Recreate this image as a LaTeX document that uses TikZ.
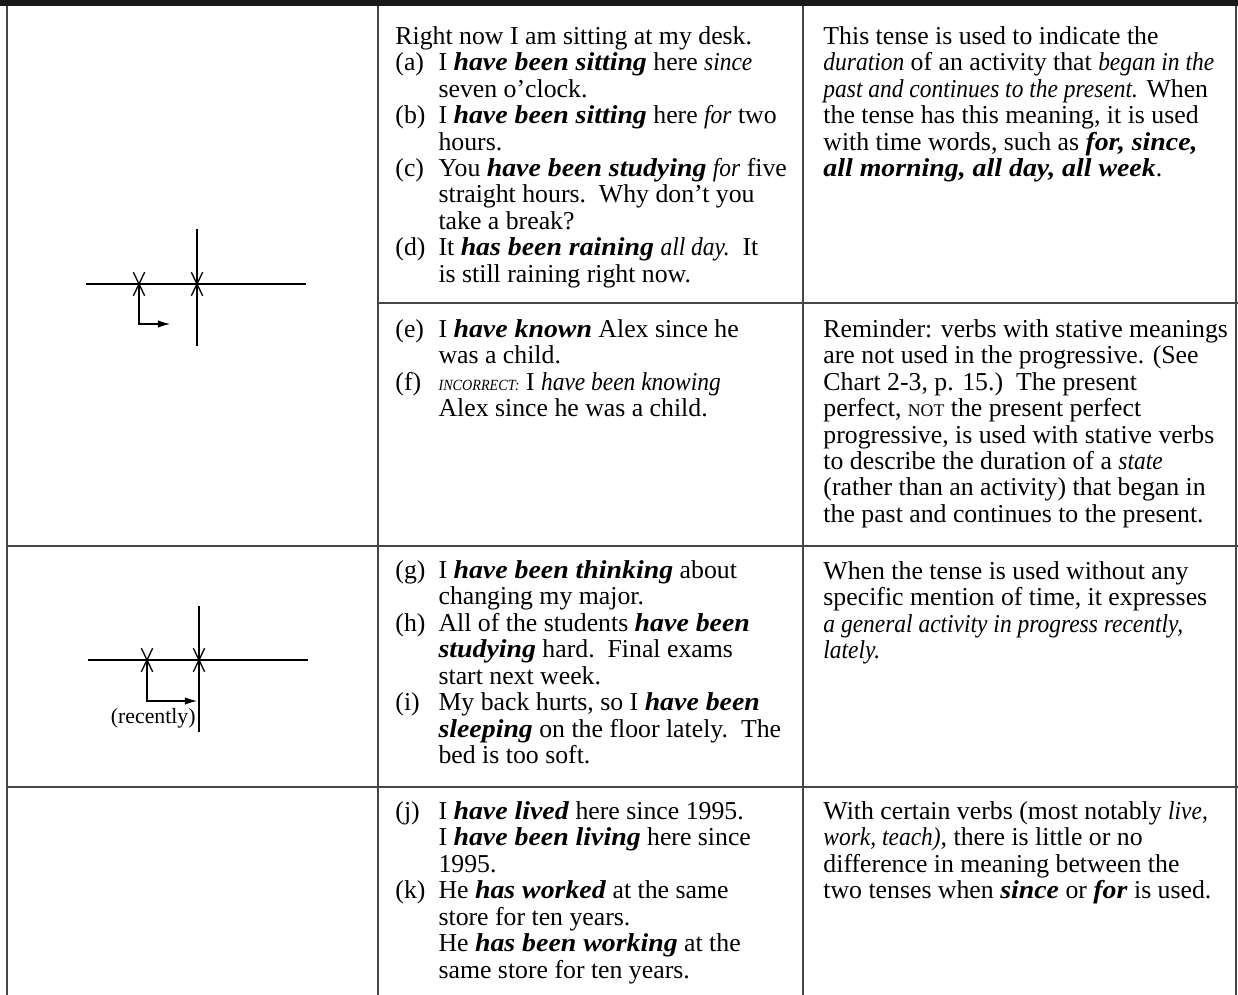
\documentclass[tikz,border=0pt]{standalone}
\usepackage{fontspec}
\setmainfont{Liberation Serif}[ItalicFeatures={FakeStretch=0.91}, BoldItalicFeatures={FakeStretch=1.08}]
\usetikzlibrary{arrows.meta, shapes.misc, positioning}
\definecolor{rulegray}{RGB}{70,70,70}
\newcommand{\bv}[1]{\textbf{\textit{#1}}}
\newcommand{\itm}[1]{\makebox[19.4pt][l]{#1}}
\newcommand{\ind}{\hspace*{19.4pt}}

\begin{document}
\begin{tikzpicture}[
    x=0.45pt, y=-0.45pt,
    cell/.style={anchor=north west, inner sep=0pt, align=left, font=\fontsize{11.6}{11.9}\selectfont},
    rule/.style={draw=rulegray, line width=0.6pt},
    timeline/.style={draw=black, line width=0.5pt},
    timex/.style={cross out, draw=black, line width=0.6pt, minimum width=4.5pt, minimum height=10pt, inner sep=0pt},
    arrow/.style={line width=0.5pt, -{Latex[length=5.5pt,width=3.4pt]}}
]
\useasboundingbox (0,0) rectangle (1238,995);

% Table rules
\fill[black!90] (0,0) rectangle (1238,6);
\coordinate (c0top) at (7,6);       \coordinate (c0bot) at (7,995);
\coordinate (c1top) at (378,6);     \coordinate (c1bot) at (378,995);
\coordinate (c2top) at (803,6);     \coordinate (c2bot) at (803,995);
\coordinate (c3top) at (1236,6);    \coordinate (c3bot) at (1236,995);
\coordinate (r1l) at (378,303);     \coordinate (r1r) at (1238,303);
\coordinate (r2l) at (7,546);       \coordinate (r2r) at (1238,546);
\coordinate (r3l) at (7,787);       \coordinate (r3r) at (1238,787);
\draw[rule] (c0top) -- (c0bot);
\draw[rule] (c1top) -- (c1bot);
\draw[rule] (c2top) -- (c2bot);
\draw[rule] (c3top) -- (c3bot);
\draw[rule] (r1l) -- (r1r);
\draw[rule] (r2l) -- (r2r);
\draw[rule] (r3l) -- (r3r);

% Example sentences
\node[cell] (ex1) at (395,26) {Right now I am sitting at my desk.\\
\itm{(a)}I \bv{have been sitting} here \textit{since}\\
\ind seven o'clock.\\
\itm{(b)}I \bv{have been sitting} here \textit{for} two\\
\ind hours.\\
\itm{(c)}You \bv{have been studying} \textit{for} five\\
\ind straight hours.\ \ Why don't you\\
\ind take a break?\\
\itm{(d)}It \bv{has been raining} \textit{all day.}\ \ It\\
\ind is still raining right now.};
\node[cell] (ex2) at (395,319) {\itm{(e)}I \bv{have known} Alex since he\\
\ind was a child.\\
\itm{(f)}{\scriptsize\itshape INCORRECT:} I \textit{have been knowing}\\
\ind Alex since he was a child.};
\node[cell] (ex3) at (395,560) {\itm{(g)}I \bv{have been thinking} about\\
\ind changing my major.\\
\itm{(h)}All of the students \bv{have been}\\
\ind \bv{studying} hard.\ \ Final exams\\
\ind start next week.\\
\itm{(i)}My back hurts, so I \bv{have been}\\
\ind \bv{sleeping} on the floor lately.\ \ The\\
\ind bed is too soft.};
\node[cell] (ex4) at (395,801) {\itm{(j)}I \bv{have lived} here since 1995.\\
\ind I \bv{have been living} here since\\
\ind 1995.\\
\itm{(k)}He \bv{has worked} at the same\\
\ind store for ten years.\\
\ind He \bv{has been working} at the\\
\ind same store for ten years.};

% Notes
\node[cell] (note1) at (823,26) {This tense is used to indicate the\\
\textit{duration} of an activity that \textit{began in the}\\
\textit{past and continues to the present.} When\\
the tense has this meaning, it is used\\
with time words, such as \bv{for, since,}\\
\bv{all morning, all day, all week}.};
\node[cell] (note2) at (823,319) {Reminder: verbs with stative meanings\\
are not used in the progressive. (See\\
Chart 2-3, p. 15.)\ \ The present\\
perfect, {\footnotesize NOT} the present perfect\\
progressive, is used with stative verbs\\
to describe the duration of a \textit{state}\\
(rather than an activity) that began in\\
the past and continues to the present.};
\node[cell] (note3) at (823,561) {When the tense is used without any\\
specific mention of time, it expresses\\
\textit{a general activity in progress recently,}\\
\textit{lately.}};
\node[cell] (note4) at (823,801) {With certain verbs (most notably \textit{live,}\\
\textit{work, teach)}, there is little or no\\
difference in meaning between the\\
two tenses when \bv{since} or \bv{for} is used.};

% Time line diagram: duration
\coordinate (tl1a) at (86,284);  \coordinate (tl1b) at (306,284);
\coordinate (now1top) at (197,229);  \coordinate (now1bot) at (197,346);
\coordinate (arr1) at (170,324);
\node[timex] (past1) at (139,284) {};
\node[timex] (now1) at (197,284) {};
\draw[timeline] (tl1a) -- (tl1b);
\draw[timeline] (now1top) -- (now1bot);
\draw[arrow] (past1.center) |- (arr1);

% Time line diagram: recently
\coordinate (tl2a) at (88,660);  \coordinate (tl2b) at (308,660);
\coordinate (now2top) at (199,606);  \coordinate (now2bot) at (199,732);
\coordinate (arr2) at (197,701);
\node[timex] (past2) at (147,660) {};
\node[timex] (now2) at (199,660) {};
\draw[timeline] (tl2a) -- (tl2b);
\draw[timeline] (now2top) -- (now2bot);
\draw[arrow] (past2.center) |- (arr2);
\node[anchor=east, inner sep=0pt, font=\fontsize{9.8}{11}\selectfont] (recent) at (196,718) {(recently)};

\end{tikzpicture}
\end{document}
